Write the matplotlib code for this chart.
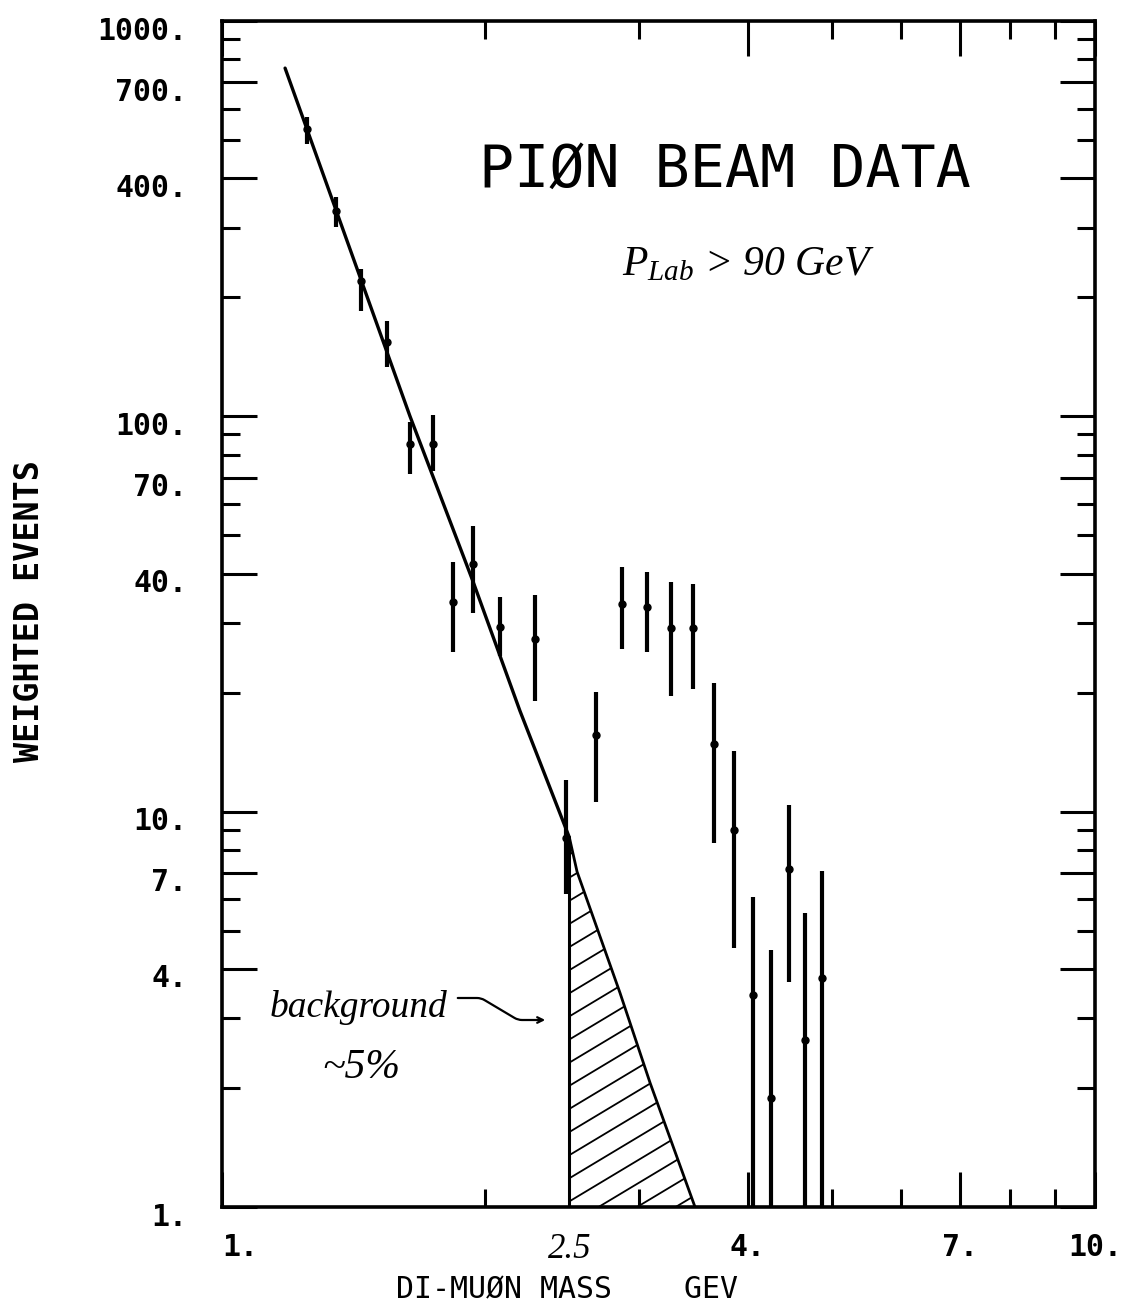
import matplotlib
matplotlib.use("Agg")
import matplotlib.pyplot as plt
import matplotlib.transforms as mtransforms
import numpy as np
from matplotlib.ticker import FixedLocator, FixedFormatter, NullFormatter

# ---------------- data ----------------
mass = [1.251, 1.351, 1.443, 1.545, 1.642, 1.745, 1.840, 1.939, 2.082, 2.283,
        2.48, 2.682, 2.872, 3.068, 3.268, 3.463, 3.661, 3.860, 4.058, 4.255,
        4.463, 4.65, 4.868]
events = [533, 330, 220, 154, 85, 85, 34.0, 42.2, 29.4, 27.3,
          8.6, 15.6, 33.6, 33.0, 29.1, 29.1, 14.8, 9.0, 3.44, 1.89,
          7.17, 2.65, 3.80]
err_high = [571, 358, 236, 174, 96.6, 100.6, 42.7, 52.7, 35.0, 35.4,
            12.05, 20.1, 41.7, 40.3, 38.0, 37.6, 21.2, 14.2, 6.09, 4.47,
            10.4, 5.55, 7.09]
err_low = [488, 301, 184.5, 133, 71.3, 72.6, 25.4, 31.9, 24.7, 19.0,
           6.2, 10.6, 25.8, 25.4, 19.6, 20.4, 8.35, 4.53, 0.6, 0.6,
           3.71, 0.6, 0.6]

# fitted continuum (power-law line)
fit_mass = [1.181, 1.642, 1.939, 2.194, 2.5]
fit_events = [760, 100.0, 38.2, 18.0, 8.6]

# background extrapolation (hatched)
bg_mass = [2.5, 2.551, 2.857, 3.093, 3.482]
bg_events = [8.6, 7.05, 3.48, 2.06, 1.0]

x_tick_vals = [1, 2.5, 4, 7, 10]
x_tick_labels = ["1.", "2.5", "4.", "7.", "10."]
x_minor = [2, 3, 5, 6, 8, 9]
y_tick_vals = [1, 4, 7, 10, 40, 70, 100, 400, 700, 1000]
y_tick_labels = ["1.", "4.", "7.", "10.", "40.", "70.", "100.", "400.", "700.", "1000."]
y_minor = [2, 3, 5, 6, 8, 9, 20, 30, 50, 60, 80, 90,
           200, 300, 500, 600, 800, 900]

# ---------------- style ----------------
plt.rcParams["font.family"] = ["DejaVu Sans Mono", "DejaVu Sans"]
plt.rcParams["mathtext.fontset"] = "custom"
plt.rcParams["mathtext.it"] = "Liberation Serif:italic"
plt.rcParams["mathtext.rm"] = "Liberation Serif:italic"
HAND = ["Liberation Serif", "DejaVu Serif"]

W, H = 1122, 1315
fig = plt.figure(figsize=(W / 100, H / 100), dpi=100)
fig.patch.set_facecolor("white")
ax = fig.add_axes([222 / W, 1 - 1207 / H, 873 / W, 1186 / H])
ax.set_xscale("log")
ax.set_yscale("log")
ax.set_xlim(1, 10)
ax.set_ylim(1, 1000)

# fit line
ax.plot(fit_mass, fit_events, color="black", lw=2.4, solid_capstyle="round", zorder=3)

# background region
ax.plot(bg_mass, bg_events, color="black", lw=2.0, zorder=3)
ax.vlines(bg_mass[0], 1, bg_events[0], color="black", lw=2.2, zorder=3)
poly = ax.fill_between(bg_mass, bg_events, 1, facecolor="none", edgecolor="none")
clip = poly.get_paths()[0]
slope = 0.6 * 873 / 1186
for c in np.arange(-0.6, 0.6, 0.0195):
    ln, = ax.plot([0, 1], [c, c + slope], transform=ax.transAxes,
                  color="black", lw=1.3, zorder=2)
    ln.set_clip_path(clip, ax.transData)

# data points
ev = np.array(events)
ax.errorbar(mass, events,
            yerr=[ev - np.array(err_low), np.array(err_high) - ev],
            fmt="o", color="black", ms=5, elinewidth=3.0, capsize=0, zorder=4)

# ticks
ax.xaxis.set_major_locator(FixedLocator(x_tick_vals))
ax.xaxis.set_major_formatter(FixedFormatter(x_tick_labels))
ax.xaxis.set_minor_locator(FixedLocator(x_minor))
ax.xaxis.set_minor_formatter(NullFormatter())
ax.yaxis.set_major_locator(FixedLocator(y_tick_vals))
ax.yaxis.set_major_formatter(FixedFormatter(y_tick_labels))
ax.yaxis.set_minor_locator(FixedLocator(y_minor))
ax.yaxis.set_minor_formatter(NullFormatter())

ax.tick_params(which="both", direction="in", top=True, right=True,
               width=2.2, color="black", labelsize=21.5)
ax.tick_params(which="major", length=25)
ax.tick_params(which="minor", length=13)
ax.tick_params(axis="x", which="major", pad=19)
ax.tick_params(axis="y", which="major", pad=25)
for s in ax.spines.values():
    s.set_linewidth(2.6)

xt = ax.xaxis.get_major_ticks()
xt[1].tick1line.set_visible(False)
xt[1].tick2line.set_visible(False)
for t in xt:
    t.label1.set_fontweight("bold")
xt[0].label1.set_horizontalalignment("left")
xt[1].label1.set_fontfamily(HAND)
xt[1].label1.set_fontstyle("italic")
xt[1].label1.set_fontweight("normal")
xt[1].label1.set_fontsize(25)

shift = mtransforms.ScaledTranslation(0, -7 / 100, fig.dpi_scale_trans)
for t in ax.yaxis.get_major_ticks():
    t.label1.set_fontweight("bold")
    t.label1.set_transform(t.label1.get_transform() + shift)

# axis labels
fig.text(567 / W, 1 - 1290 / H, "DI-MUØN MASS    GEV", ha="center", va="center",
         fontsize=21.5)
fig.text(30 / W, 1 - 611 / H, "WEIGHTED EVENTS", rotation=90, ha="center",
         va="center", fontsize=24, fontweight="bold")

# annotations
fig.text(725 / W, 1 - 170 / H, "PIØN BEAM DATA", ha="center", va="center",
         fontsize=42)
fig.text(622 / W, 1 - 265 / H, r"$P_{Lab}$ > 90 GeV", ha="left", va="center",
         fontsize=30, family=HAND, style="italic")
fig.text(270 / W, 1 - 1017 / H, "background", ha="left", va="baseline",
         fontsize=27, family=HAND, style="italic")
fig.text(322 / W, 1 - 1068 / H, "~5%", ha="left", va="center",
         fontsize=30, family=HAND, style="italic")
ax.annotate("", xy=(548 / W, 1 - 1020 / H), xycoords="figure fraction",
            xytext=(455 / W, 1 - 998 / H), textcoords="figure fraction",
            arrowprops=dict(arrowstyle="->", lw=1.6, color="black",
                            connectionstyle="arc,angleA=0,angleB=180,armA=26,armB=30,rad=4"))

fig.savefig("out.png", dpi=100, facecolor="white")
